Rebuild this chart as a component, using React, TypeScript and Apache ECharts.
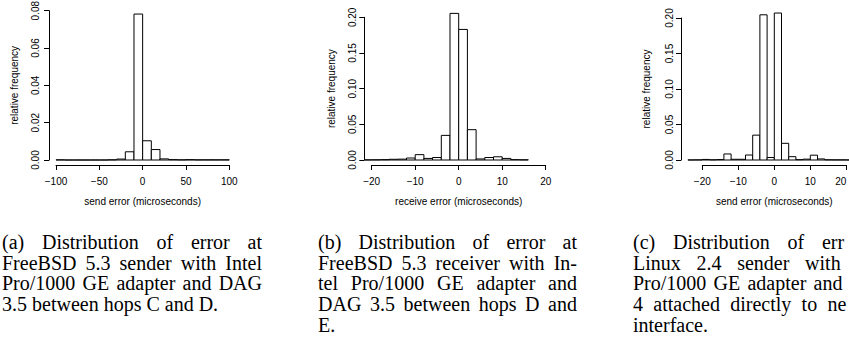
import React, { useEffect, useRef } from "react";
import * as echarts from "echarts";

// ---------- data ----------
const aBreaks = [-100, -90, -80, -70, -60, -50, -40, -30, -20, -10, 0, 10, 20, 30, 40, 50, 60, 70, 80, 90, 100];
const aDensity = [0.0001, 0, 0, 0, 0, 0, 0.0001, 0.0005, 0.0044, 0.0782, 0.0103, 0.0056, 0.0006, 0.0002, 0.0001, 0.0002, 0.0001, 0.0001, 0.0001, 0.0001];

const bBreaks = [-22, -20, -18, -16, -14, -12, -10, -8, -6, -4, -2, 0, 2, 4, 6, 8, 10, 12, 14, 16];
const bDensity = [0.0002, 0.0003, 0.0005, 0.001, 0.0012, 0.0028, 0.0075, 0.0022, 0.0035, 0.0345, 0.2055, 0.183, 0.0425, 0.0015, 0.0035, 0.0045, 0.0022, 0.0005, 0.0003];

const cBreaks = [-24, -22, -20, -18, -16, -14, -12, -10, -8, -6, -4, -2, 0, 2, 4, 6, 8, 10, 12, 14, 16, 18, 20, 22, 24];
const cDensity = [0.0001, 0.0002, 0.0008, 0.0003, 0.0006, 0.0085, 0.001, 0.001, 0.007, 0.035, 0.2045, 0.0035, 0.207, 0.0235, 0.0047, 0.0005, 0.0012, 0.0068, 0.0015, 0.0003, 0.0002, 0.0002, 0.0001, 0.0001];

const aXTicks = { min: -100, max: 100, interval: 50 };
const bXTicks = { min: -20, max: 20, interval: 10 };
const cXTicks = { min: -20, max: 20, interval: 10 };
const aYTicks = { min: 0, max: 0.08, interval: 0.02 };
const bYTicks = { min: 0, max: 0.2, interval: 0.05 };
const cYTicks = { min: 0, max: 0.2, interval: 0.05 };

const aXTitle = "send error (microseconds)";
const bXTitle = "receive error (microseconds)";
const cXTitle = "send error (microseconds)";
const yTitle = "relative frequency";

const captionA = [
  "(a) Distribution of error at",
  "FreeBSD 5.3 sender with Intel",
  "Pro/1000 GE adapter and DAG",
  "3.5 between hops C and D.",
];
const captionB = [
  "(b) Distribution of error at",
  "FreeBSD 5.3 receiver with In-",
  "tel Pro/1000 GE adapter and",
  "DAG 3.5 between hops D and",
  "E.",
];
const captionC = [
  "(c) Distribution of error at",
  "Linux 2.4 sender with Intel",
  "Pro/1000 GE adapter and DAG",
  "4 attached directly to network",
  "interface.",
];

// ---------- helpers ----------
const SANS = "Liberation Sans";
const SERIF = "Liberation Serif";
const INK = "#000";
const PAGE_W = 849;

function toBins(breaks: number[], dens: number[]) {
  return dens.map((d, i) => [breaks[i], breaks[i + 1], d]);
}

function fmtX(v: number) {
  return v < 0 ? "\u2212" + Math.abs(v) : String(v);
}

function makeRenderItem(plotMin: number) {
  return (params: any, api: any) => {
    const x0 = Math.max(api.value(0), plotMin);
    const x1 = api.value(1);
    const y = api.value(2);
    const p0 = api.coord([x0, 0]);
    const p1 = api.coord([x1, y]);
    return {
      type: "polygon",
      shape: {
        points: [
          [p0[0], p0[1]],
          [p0[0], p1[1]],
          [p1[0], p1[1]],
          [p1[0], p0[1]],
        ],
      },
      style: { fill: "#fff", stroke: INK, lineWidth: 1 },
    };
  };
}

function xAxisOf(gridIndex: number, t: any, title: string, alignMax?: boolean) {
  return {
    gridIndex,
    type: "value",
    min: t.min,
    max: t.max,
    interval: t.interval,
    offset: 5,
    axisLine: { show: true, onZero: false, lineStyle: { color: INK, width: 1 } },
    axisTick: { show: true, length: 5, lineStyle: { color: INK, width: 1 } },
    axisLabel: {
      margin: 11,
      fontSize: 10,
      fontFamily: SANS,
      color: INK,
      formatter: fmtX,
      ...(alignMax ? { alignMaxLabel: "right" } : {}),
    },
    splitLine: { show: false },
    name: title,
    nameLocation: "middle",
    nameGap: 31,
    nameTextStyle: { fontSize: 10, fontFamily: SANS, color: INK },
  };
}

function yAxisOf(gridIndex: number, t: any, offset: number, margin: number, nameGap: number) {
  return {
    gridIndex,
    type: "value",
    min: t.min,
    max: t.max,
    interval: t.interval,
    offset,
    axisLine: { show: true, onZero: false, lineStyle: { color: INK, width: 1 } },
    axisTick: { show: true, length: 5, lineStyle: { color: INK, width: 1 } },
    axisLabel: {
      margin,
      rotate: 90,
      fontSize: 10,
      fontFamily: SANS,
      color: INK,
      formatter: (v: number) => v.toFixed(2),
    },
    splitLine: { show: false },
    name: yTitle,
    nameLocation: "middle",
    nameRotate: 90,
    nameGap,
    nameTextStyle: { fontSize: 10, fontFamily: SANS, color: INK },
  };
}

// Justified caption, one text per word; words that run past the page edge are
// cut to the part that the page shows (as in the reference).
function captionElements(lines: string[], left: number, width: number, firstBaseline: number, lineStep: number, fontSize: number) {
  const canvas = document.createElement("canvas");
  const ctx = canvas.getContext("2d") as CanvasRenderingContext2D;
  ctx.font = `${fontSize}px "${SERIF}"`;
  const spaceW = ctx.measureText(" ").width;
  const els: any[] = [];
  lines.forEach((line, li) => {
    const words = line.split(" ");
    const widths = words.map((w) => ctx.measureText(w).width);
    const total = widths.reduce((s, w) => s + w, 0);
    const last = li === lines.length - 1;
    const gap = !last && words.length > 1 ? (width - total) / (words.length - 1) : spaceW;
    let x = left;
    const y = firstBaseline + li * lineStep - 0.3375 * fontSize;
    words.forEach((w, wi) => {
      let shown = w;
      if (x + widths[wi] > PAGE_W - 1) {
        shown = "";
        for (let k = w.length; k > 0; k--) {
          if (x + ctx.measureText(w.slice(0, k)).width <= PAGE_W - 1) {
            shown = w.slice(0, k);
            break;
          }
        }
      }
      if (shown) {
        els.push({
          type: "text",
          x,
          y,
          silent: true,
          style: {
            text: shown,
            fontSize,
            fontFamily: SERIF,
            fill: INK,
            align: "left",
            verticalAlign: "middle",
            textAlign: "left",
            textVerticalAlign: "middle",
          },
        });
      }
      x += widths[wi] + gap;
    });
  });
  return els;
}

export default function App() {
  const ref = useRef<HTMLDivElement>(null);

  useEffect(() => {
    if (!ref.current) return;
    const chart = echarts.init(ref.current, null, { renderer: "svg" });

    const graphicEls = [
      ...captionElements(captionA, 2, 260, 248.5, 20.8, 20),
      ...captionElements(captionB, 318, 259, 248.5, 20.8, 20),
      ...captionElements(captionC, 633, 260, 248.5, 20.8, 20),
    ];

    const option: any = {
      animation: false,
      backgroundColor: "#fff",
      grid: [
        { left: 56, top: 10.7, width: 173.3, height: 149.3, containLabel: false, outerBoundsMode: "none" },
        { left: 371.7, top: 17.3, width: 174, height: 142.7, containLabel: false, outerBoundsMode: "none" },
        { left: 702.3, top: 18, width: 144, height: 142, containLabel: false, outerBoundsMode: "none" },
      ],
      xAxis: [xAxisOf(0, aXTicks, aXTitle), xAxisOf(1, bXTicks, bXTitle), xAxisOf(2, cXTicks, cXTitle, true)],
      yAxis: [yAxisOf(0, aYTicks, 7, 9, 30), yAxisOf(1, bYTicks, 7.4, 7, 28), yAxisOf(2, cYTicks, 21.3, 7, 29.5)],
      series: [
        {
          type: "custom",
          xAxisIndex: 0,
          yAxisIndex: 0,
          clip: false,
          encode: { x: [0, 1], y: 2 },
          data: toBins(aBreaks, aDensity),
          renderItem: makeRenderItem(-108),
        },
        {
          type: "custom",
          xAxisIndex: 1,
          yAxisIndex: 1,
          clip: false,
          encode: { x: [0, 1], y: 2 },
          data: toBins(bBreaks, bDensity),
          renderItem: makeRenderItem(-21.6),
        },
        {
          type: "custom",
          xAxisIndex: 2,
          yAxisIndex: 2,
          clip: false,
          encode: { x: [0, 1], y: 2 },
          data: toBins(cBreaks, cDensity),
          renderItem: makeRenderItem(-26),
        },
      ],
      graphic: { elements: graphicEls },
    };
    chart.setOption(option);
    return () => chart.dispose();
  }, []);

  return (
    <div
      ref={ref}
      style={{ position: "fixed", left: 0, top: 0, width: 849, height: 358, background: "#fff" }}
    />
  );
}
